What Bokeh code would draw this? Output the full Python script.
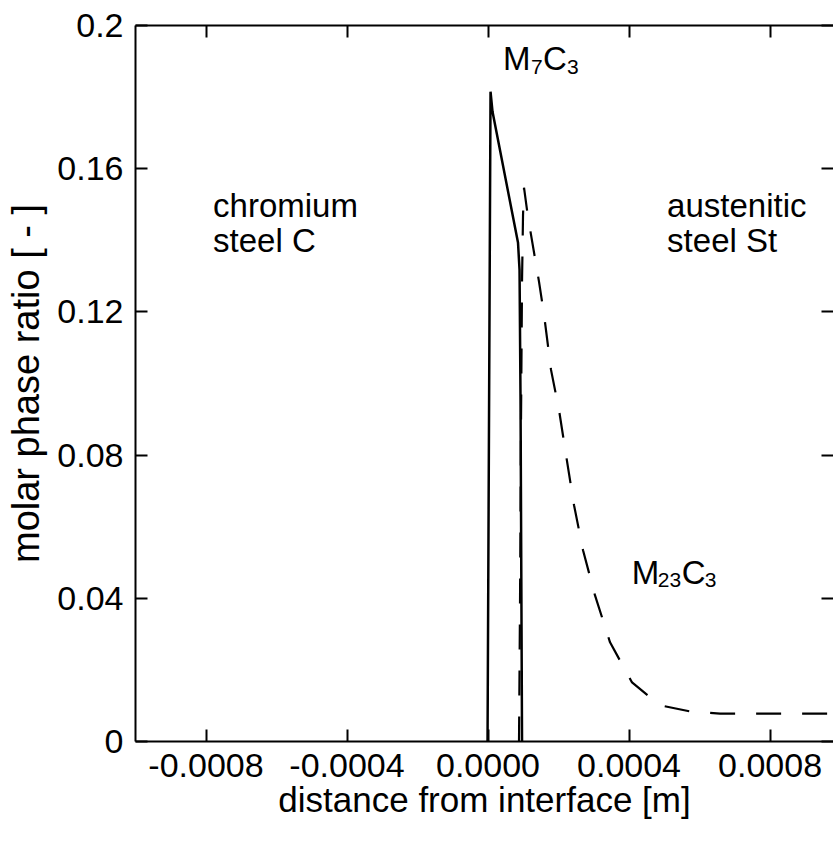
from bokeh.plotting import figure
from bokeh.models import Range1d, LinearAxis, FixedTicker, ColumnDataSource
from bokeh.embed import file_html
from bokeh.resources import INLINE
from bokeh.core.properties import value

# ---- data ----
m7c3_x = [-0.0000014, 0.0000071, 0.0000128, 0.0000851, 0.0000894, 0.0000922, 0.0000965]
m7c3_y = [0.0, 0.1815, 0.1759, 0.1393, 0.1317, 0.0954, 0.0]

m23c3_x = [0.0000879, 0.0000908, 0.0000936, 0.0000965, 0.0000993, 0.0001021,
           0.0001106, 0.0001220, 0.0001447, 0.0001589, 0.0001787, 0.0002014,
           0.0002213, 0.0002440, 0.0002695, 0.0003035, 0.0003461, 0.0004085,
           0.0004879, 0.0005730, 0.0006582, 0.0008284, 0.0010000]
m23c3_y = [0.0, 0.0394, 0.0898, 0.1289, 0.1471, 0.1547,
           0.1485, 0.1415, 0.1284, 0.1192, 0.1038, 0.0926,
           0.0800, 0.0660, 0.0534, 0.0408, 0.0277, 0.0165,
           0.0101, 0.0084, 0.0078, 0.0078, 0.0078]

x_ticks = [-0.0008, -0.0004, 0.0, 0.0004, 0.0008]
x_tick_labels = ["-0.0008", "-0.0004", "0.0000", "0.0004", "0.0008"]
y_ticks = [0.0, 0.04, 0.08, 0.12, 0.16, 0.2]
y_tick_labels = ["0", "0.04", "0.08", "0.12", "0.16", "0.2"]

x_label = "distance from interface [m]"
y_label = "molar phase ratio [ - ]"

region_text = ["chromium", "steel C", "austenitic", "steel St"]
region_x = [-0.000780, -0.000780, 0.000508, 0.000508]
region_y = [0.1496, 0.1399, 0.1496, 0.1399]

# phase labels: main letters and subscripts
m7c3_anchor = (0.0000426, 0.1907)
m7c3_parts = ["M", "7", "C", "3"]
m23c3_anchor = (0.0004077, 0.0473)
m23c3_parts = ["M", "23", "C", "3"]

FONT = "Liberation Sans"
TICK_FS = "34px"
XLAB_FS = "35px"
YLAB_FS = "38px"
TXT_FS = "33px"
SUB_FS = "21px"

p = figure(width=833, height=841, output_backend="svg", toolbar_location=None,
           x_range=Range1d(-0.001, 0.00098), y_range=Range1d(0.0, 0.2),
           x_axis_location=None, y_axis_location=None,
           min_border_left=135, min_border_right=0,
           min_border_top=25, min_border_bottom=100)
p.grid.visible = False
p.outline_line_color = None
p.background_fill_color = "white"
p.border_fill_color = "white"


def make_axis(ticks, labels, label_text, label_fs, standoff):
    ax = LinearAxis(ticker=FixedTicker(ticks=ticks, minor_ticks=[]))
    ax.major_label_overrides = {t: l for t, l in zip(ticks, labels)}
    ax.major_tick_in = 12
    ax.major_tick_out = 0
    ax.major_tick_line_width = 2
    ax.major_tick_line_color = "black"
    ax.minor_tick_line_color = None
    ax.axis_line_width = 2
    ax.axis_line_color = "black"
    ax.major_label_text_font = FONT
    ax.major_label_text_font_size = TICK_FS
    ax.major_label_text_color = "black"
    ax.major_label_standoff = 12
    ax.axis_label = label_text
    ax.axis_label_text_font = FONT
    ax.axis_label_text_font_size = label_fs
    ax.axis_label_text_font_style = "normal"
    ax.axis_label_text_color = "black"
    ax.axis_label_standoff = standoff
    return ax


def mirror_axis(ticks, line=True):
    # mirrored ticks without labels: drawn as minor ticks
    ax = LinearAxis(ticker=FixedTicker(ticks=[], minor_ticks=ticks))
    ax.minor_tick_in = 12
    ax.minor_tick_out = 0
    ax.minor_tick_line_width = 2
    ax.minor_tick_line_color = "black"
    ax.major_tick_line_color = None
    ax.major_label_standoff = 0
    ax.axis_line_width = 2
    ax.axis_line_color = "black" if line else None
    return ax


p.add_layout(make_axis(x_ticks, x_tick_labels, x_label, XLAB_FS, 0), "below")
p.add_layout(make_axis(y_ticks, y_tick_labels, y_label, YLAB_FS, 7), "left")
p.add_layout(mirror_axis(x_ticks), "above")
p.add_layout(mirror_axis(y_ticks, line=False), "right")

p.line(m7c3_x, m7c3_y, line_color="black", line_width=2.5)
p.line(m23c3_x, m23c3_y, line_color="black", line_width=2.2, line_dash="25 21")

p.text(x=region_x, y=region_y, text=region_text, text_font=value(FONT),
       text_font_size=TXT_FS, text_color="black", text_baseline="alphabetic",
       text_align="left")

# phase labels built from normal and subscript pieces
for anchor, parts, offs in [(m7c3_anchor, m7c3_parts, [0, 28, 40, 64]),
                            (m23c3_anchor, m23c3_parts, [0, 26, 50, 73])]:
    src_main = ColumnDataSource(dict(x=[anchor[0]] * 2, y=[anchor[1]] * 2,
                                     t=[parts[0], parts[2]], xo=[offs[0], offs[2]]))
    src_sub = ColumnDataSource(dict(x=[anchor[0]] * 2, y=[anchor[1]] * 2,
                                    t=[parts[1], parts[3]], xo=[offs[1], offs[3]]))
    p.text(x="x", y="y", text="t", x_offset="xo", source=src_main,
           text_font=value(FONT), text_font_size=TXT_FS, text_color="black",
           text_baseline="alphabetic", text_align="left")
    p.text(x="x", y="y", text="t", x_offset="xo", y_offset=8, source=src_sub,
           text_font=value(FONT), text_font_size=SUB_FS, text_color="black",
           text_baseline="alphabetic", text_align="left")

open("out.html", "w").write(file_html(p, INLINE))
